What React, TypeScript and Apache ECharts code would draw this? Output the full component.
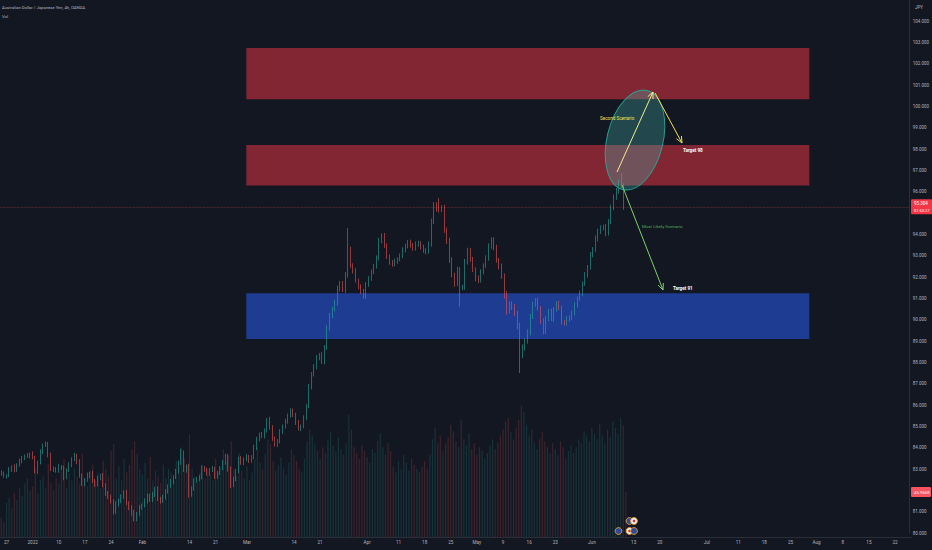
import React, { useEffect, useRef } from "react";
import * as echarts from "echarts";

// ---- half-day (12h) closes, AUD/JPY, Dec 24 2021 -> Jun 9 2022 ----
const firstOpen = 82.85;
const closes = [
  82.78, 82.66, 82.70, 82.98, 83.08, 82.95, 83.20, 83.38, 83.52, 83.60,
  83.62, 83.68, 83.55, 82.90, 83.30, 83.80, 84.12, 84.18, 83.65, 82.98,
  83.02, 82.92, 83.10, 83.05, 82.62, 82.95, 83.20, 83.45, 83.62, 83.35,
  82.70, 82.30, 82.48, 82.70, 82.80, 82.45, 82.28, 82.58, 82.70, 82.25,
  81.85, 81.70, 81.50, 81.00, 81.35, 81.50, 81.72, 81.90, 81.40, 81.20,
  80.95, 80.68, 80.90, 81.20, 81.30, 81.50, 81.75, 81.55, 81.80, 82.08,
  81.60, 81.50, 81.68, 81.95, 82.20, 82.40, 82.62, 82.90, 83.30, 83.75,
  82.95, 83.10, 81.80, 82.10, 82.45, 82.55, 82.62, 83.05, 82.95, 82.80,
  82.95, 83.02, 82.65, 82.80, 83.05, 83.30, 83.62, 83.00, 82.25, 82.55,
  82.90, 83.48, 83.30, 83.45, 83.58, 83.40, 83.55, 84.00, 84.40, 84.62,
  84.55, 84.80, 85.30, 84.95, 84.45, 84.15, 84.30, 84.75, 85.00, 85.25,
  85.50, 85.72, 85.55, 85.20, 84.90, 85.00, 85.40, 85.95, 86.85, 87.45,
  87.80, 88.20, 88.35, 88.05, 88.70, 89.60, 90.20, 90.50, 90.80, 91.45,
  91.70, 91.40, 92.10, 93.30, 92.55, 92.30, 91.85, 91.55, 91.35, 91.10,
  91.65, 91.95, 92.25, 92.50, 92.90, 93.70, 93.95, 93.50, 92.95, 92.70,
  92.60, 92.75, 92.85, 93.00, 93.30, 93.45, 93.65, 93.50, 93.35, 93.55,
  93.60, 93.40, 93.25, 93.20, 93.55, 94.60, 95.40, 95.20, 95.15, 95.25,
  94.20, 93.70, 92.80, 92.10, 91.70, 92.35, 91.50, 91.55, 92.70, 93.25,
  92.85, 92.35, 91.95, 91.85, 92.25, 92.55, 92.90, 93.45, 93.75, 93.40,
  92.80, 92.50, 92.05, 91.20, 90.40, 90.75, 90.60, 90.30, 89.70, 88.40,
  88.70, 89.00, 89.40, 90.15, 90.75, 90.90, 90.55, 89.95, 89.45, 90.05,
  90.40, 90.05, 90.50, 90.75, 90.55, 89.90, 89.85, 90.05, 90.10, 90.30,
  90.70, 91.00, 91.25, 91.70, 92.10, 92.45, 93.05, 93.30, 93.80, 94.15,
  94.30, 94.35, 94.05, 94.60, 95.25, 95.75, 96.05, 96.45, 96.30, 95.304,
];
// upper / lower wick lengths in hundredths of a yen
const wickUp = [
  8, 10, 6, 12, 9, 14, 7, 11, 10, 8, 12, 9, 15, 6, 10, 13, 8, 11, 9, 12,
  10, 7, 13, 9, 11, 8, 12, 10, 14, 9, 11, 8, 10, 13, 7, 12, 9, 10, 8, 11,
  9, 12, 10, 8, 13, 11, 9, 10, 12, 8, 10, 14, 9, 11, 8, 12, 10, 9, 13, 8,
  11, 9, 12, 10, 8, 13, 9, 11, 10, 20, 12, 10, 14, 9, 11, 8, 10, 12, 9, 11,
  10, 12, 8, 11, 9, 13, 10, 8, 12, 9, 11, 10, 13, 9, 12, 8, 10, 14, 11, 9,
  12, 10, 9, 15, 11, 8, 10, 12, 9, 11, 10, 13, 12, 9, 10, 8, 12, 11, 14, 10,
  12, 15, 10, 13, 11, 14, 12, 10, 13, 15, 12, 11, 14, 100, 13, 10, 12, 9, 11, 10,
  12, 10, 11, 13, 12, 14, 10, 12, 9, 11, 10, 12, 8, 11, 10, 12, 9, 11, 10, 12,
  11, 9, 12, 10, 13, 15, 12, 11, 50, 12, 14, 12, 15, 13, 11, 14, 12, 10, 16, 13,
  12, 10, 11, 13, 12, 10, 12, 14, 11, 13, 12, 10, 14, 12, 15, 13, 11, 14, 12, 16,
  14, 12, 15, 13, 11, 12, 14, 10, 13, 12, 11, 13, 10, 12, 14, 11, 10, 12, 11, 13,
  12, 10, 13, 11, 14, 12, 13, 11, 15, 12, 13, 11, 14, 12, 15, 13, 14, 12, 43, 10,
];
const wickDn = [
  9, 7, 11, 8, 12, 10, 8, 9, 11, 10, 7, 12, 9, 10, 14, 8, 11, 9, 10, 8,
  12, 9, 10, 8, 14, 10, 9, 11, 8, 12, 10, 9, 11, 8, 13, 10, 12, 9, 11, 10,
  11, 10, 12, 14, 9, 11, 10, 12, 9, 13, 14, 13, 13, 9, 11, 10, 12, 9, 10, 11,
  10, 12, 9, 11, 10, 8, 12, 9, 11, 10, 9, 12, 15, 10, 11, 9, 12, 10, 8, 11,
  11, 9, 12, 10, 8, 11, 9, 12, 14, 10, 12, 9, 10, 11, 8, 12, 10, 9, 11, 10,
  10, 12, 9, 11, 13, 10, 12, 9, 11, 10, 12, 9, 11, 13, 10, 12, 9, 11, 10, 12,
  11, 13, 10, 12, 14, 11, 10, 12, 11, 13, 12, 10, 14, 12, 11, 13, 10, 12, 14, 11,
  13, 10, 12, 11, 10, 12, 11, 13, 10, 12, 11, 9, 12, 10, 11, 13, 10, 12, 11, 10,
  12, 10, 11, 13, 10, 12, 11, 13, 12, 10, 12, 14, 13, 11, 15, 12, 89, 12, 14, 11,
  13, 11, 14, 12, 10, 12, 11, 13, 12, 14, 12, 14, 13, 20, 16, 12, 14, 13, 15, 90,
  20, 14, 12, 13, 11, 14, 12, 15, 13, 11, 12, 11, 14, 12, 10, 13, 12, 11, 13, 12,
  11, 12, 10, 13, 11, 12, 10, 12, 11, 13, 12, 11, 13, 10, 12, 11, 12, 13, 12, 14,
];
// volume in thousands
const volumesK = [
  20, 15, 35, 40, 30, 45, 38, 50, 42, 55, 60, 48, 52, 70, 45, 58, 62, 50, 75, 55,
  48, 60, 55, 72, 80, 50, 65, 58, 70, 62, 55, 85, 60, 52, 68, 74, 58, 66, 50, 78,
  70, 62, 88, 95, 60, 72, 58, 80, 66, 74, 90, 98, 85, 70, 64, 76, 60, 82, 58, 68,
  62, 55, 74, 60, 70, 66, 58, 78, 72, 92, 80, 75, 105, 70, 62, 58, 66, 74, 60, 70,
  64, 58, 80, 66, 72, 90, 76, 84, 98, 70, 62, 86, 68, 60, 72, 58, 66, 80, 92, 76,
  70, 85, 100, 95, 78, 68, 74, 82, 70, 64, 76, 90, 84, 78, 70, 66, 80, 98, 110, 104,
  96, 88, 80, 92, 86, 100, 108, 94, 88, 102, 90, 84, 96, 125, 110, 92, 86, 80, 94, 88,
  82, 76, 90, 86, 98, 106, 92, 84, 96, 88, 72, 66, 78, 70, 84, 76, 68, 80, 74, 70,
  66, 72, 78, 70, 84, 100, 112, 96, 104, 88, 96, 102, 115, 108, 98, 92, 120, 100, 94, 106,
  90, 96, 84, 92, 88, 80, 86, 94, 100, 90, 96, 104, 110, 118, 122, 108, 100, 112, 120, 135,
  128, 115, 104, 110, 96, 90, 100, 108, 98, 92, 86, 96, 90, 84, 98, 92, 80, 88, 94, 86,
  92, 100, 96, 108, 104, 98, 112, 106, 100, 116, 104, 96, 110, 102, 118, 112, 106, 122, 114, 45.966,
];

// time-axis tick labels and their trading-day offset from Dec 27 2021
const dateLabels = ["27", "2022", "10", "17", "24", "Feb", "14", "21", "Mar", "14", "21", "Apr", "11", "18", "25", "May", "9", "16", "23", "Jun", "13", "20", "Jul", "11", "18", "25", "Aug", "8", "15", "22"];
const dateLabelDays = [0, 5, 10, 15, 20, 26, 35, 40, 46, 55, 60, 69, 75, 80, 85, 90, 95, 100, 105, 112, 120, 125, 134, 140, 145, 150, 155, 160, 165, 170];

// price zones [top, bottom] and their slot span
const zoneUpperRed = [102.75, 100.35];
const zoneLowerRed = [98.2, 96.3];
const zoneBlue = [91.25, 89.1];
const zoneSlots = [94, 310];

const N_SLOTS = 349;
const SLOTS_BEFORE_FIRST_DAY = 2;

const UP = "#26a69a";
const DOWN = "#ef5350";
const FONT = "Roboto, 'Noto Sans', sans-serif";

function arrow(x1: number, y1: number, x2: number, y2: number, color: string) {
  const ang = Math.atan2(y2 - y1, x2 - x1);
  const L = 7;
  const a = 0.42;
  const p1 = [x2 - L * Math.cos(ang - a), y2 - L * Math.sin(ang - a)];
  const p2 = [x2 - L * Math.cos(ang + a), y2 - L * Math.sin(ang + a)];
  return [
    { type: "line", z: 100, shape: { x1, y1, x2, y2 }, style: { stroke: color, lineWidth: 1 } },
    { type: "polyline", z: 100, shape: { points: [p1, [x2, y2], p2] }, style: { stroke: color, lineWidth: 1, fill: null } },
  ];
}

function txt(x: number, y: number, text: string, fill: string, size: number, weight: any = "normal", align: any = "left") {
  return {
    type: "text",
    z: 100,
    x,
    y,
    style: { text, fill, fontSize: size, fontFamily: FONT, fontWeight: weight, align, verticalAlign: "middle" },
  };
}

export default function App() {
  const ref = useRef<HTMLDivElement>(null);

  useEffect(() => {
    document.body.style.margin = "0";
    if (!ref.current) return;
    const chart = echarts.init(ref.current, undefined, { renderer: "svg" });

    const cats = Array.from({ length: N_SLOTS }, (_, i) => String(i));
    const labelMap = new Map<number, string>();
    dateLabels.forEach((l, k) => labelMap.set(SLOTS_BEFORE_FIRST_DAY + 2 * dateLabelDays[k], l));

    const candles = closes.map((c, i) => {
      const o = i === 0 ? firstOpen : closes[i - 1];
      const hi = Math.max(o, c) + wickUp[i] / 100;
      const lo = Math.min(o, c) - wickDn[i] / 100;
      return [o, c, lo, hi];
    });
    const vols = volumesK.map((v, i) => ({
      value: v,
      itemStyle: { color: candles[i][1] >= candles[i][0] ? "rgba(38,166,154,0.2)" : "rgba(239,83,80,0.2)" },
    }));
    const lastClose = closes[closes.length - 1];
    const lastVol = volumesK[volumesK.length - 1];

    const zoneItem = (z: number[], color: string) => [
      { xAxis: String(zoneSlots[0]), yAxis: z[0], itemStyle: { color } },
      { xAxis: String(zoneSlots[1]), yAxis: z[1] },
    ];

    // price levels whose tick labels sit under the two axis badges
    let hidden: number[] = [];
    const priceFormatter = (v: number) =>
      v >= 105 || hidden.some((h) => Math.abs(h - v) < 0.45) ? "" : v.toFixed(3);

    chart.setOption({
      animation: false,
      backgroundColor: "#131722",
      textStyle: { fontFamily: FONT },
      grid: [
        { left: 0, right: 20, top: 0, bottom: 17 },
        { left: 0, right: 20, top: 0, bottom: 13 },
      ],
      xAxis: [
        { type: "category", gridIndex: 0, data: cats, boundaryGap: true, show: false },
        {
          type: "category",
          gridIndex: 1,
          data: cats,
          boundaryGap: true,
          axisLine: { show: true, lineStyle: { color: "#2a2e39" } },
          axisTick: { show: false },
          splitLine: { show: false },
          axisLabel: {
            interval: (i: number) => labelMap.has(i),
            formatter: (_v: string, i: number) => labelMap.get(i) ?? "",
            fontSize: 4.6,
            color: "#b2b5be",
            margin: 3,
            hideOverlap: false,
          },
        },
      ],
      yAxis: [
        {
          type: "value",
          gridIndex: 0,
          position: "right",
          min: 80,
          max: 105,
          interval: 1,
          splitLine: { show: false },
          axisLine: { show: true, lineStyle: { color: "#2a2e39" } },
          axisTick: { show: false },
          axisLabel: {
            formatter: priceFormatter,
            fontSize: 4.5,
            color: "#b2b5be",
            margin: 3,
          },
        },
        { type: "value", gridIndex: 1, min: 0, max: 550, show: false, splitLine: { show: false } },
      ],
      series: [
        {
          type: "bar",
          name: "Vol",
          xAxisIndex: 1,
          yAxisIndex: 1,
          data: vols,
          barWidth: 1.2,
          z: 1,
        },
        {
          type: "candlestick",
          name: "AUDJPY",
          xAxisIndex: 0,
          yAxisIndex: 0,
          data: candles,
          barWidth: 1.1,
          z: 3,
          itemStyle: { color: UP, color0: DOWN, borderColor: UP, borderColor0: DOWN, borderWidth: 0.6 },
          markArea: {
            silent: true,
            data: [
              zoneItem(zoneUpperRed, "rgba(242,54,69,0.5)"),
              zoneItem(zoneLowerRed, "rgba(242,54,69,0.5)"),
              zoneItem(zoneBlue, "rgba(41,98,255,0.5)"),
            ],
          },
          markLine: {
            silent: true,
            symbol: "none",
            label: { show: false },
            lineStyle: { color: "rgba(239,83,80,0.5)", type: "dotted", width: 0.7 },
            data: [{ yAxis: lastClose }],
          },
        },
      ],
    });

    const yPrice = chart.convertToPixel({ yAxisIndex: 0 }, lastClose) as number;
    const yVol = chart.convertToPixel({ yAxisIndex: 1 }, lastVol) as number;
    const volAsPrice = chart.convertFromPixel({ yAxisIndex: 0 }, yVol) as number;
    hidden = [lastClose, volAsPrice];
    const axisX = 932 - 20;

    const flags: any[] = [
      { type: "circle", z: 100, shape: { cx: 618.5, cy: 531, r: 3.4 }, style: { fill: "#2d4a9c", stroke: "#e8a02e", lineWidth: 0.9 } },
      { type: "circle", z: 100, shape: { cx: 629.5, cy: 521, r: 3.4 }, style: { fill: "#2d4a9c", stroke: "#e8a02e", lineWidth: 0.9 } },
      { type: "circle", z: 101, shape: { cx: 634, cy: 521, r: 3.4 }, style: { fill: "#f2f2f2", stroke: "#e8a02e", lineWidth: 0.9 } },
      { type: "circle", z: 102, shape: { cx: 634, cy: 521, r: 1.3 }, style: { fill: "#d32f2f" } },
      { type: "circle", z: 100, shape: { cx: 629.5, cy: 531, r: 3.4 }, style: { fill: "#f2f2f2", stroke: "#e8a02e", lineWidth: 0.9 } },
      { type: "circle", z: 101, shape: { cx: 629.5, cy: 531, r: 1.3 }, style: { fill: "#d32f2f" } },
      { type: "circle", z: 102, shape: { cx: 634, cy: 531, r: 3.4 }, style: { fill: "#2d4a9c", stroke: "#e8a02e", lineWidth: 0.9 } },
    ];

    chart.setOption({
      yAxis: [{ axisLabel: { formatter: priceFormatter } }, {}],
      graphic: [
        txt(2, 7, "Australian Dollar / Japanese Yen, 4h, OANDA", "#b2b5be", 4.2),
        txt(2, 16, "Vol", "#b2b5be", 4.2),
        txt(axisX + 3, 7, "JPY", "#b2b5be", 4.5),
        {
          type: "ellipse",
          z: 99,
          x: 635,
          y: 140,
          rotation: -0.24,
          shape: { cx: 0, cy: 0, rx: 28, ry: 51 },
          style: { fill: "rgba(70,185,180,0.3)", stroke: "rgba(38,170,150,0.9)", lineWidth: 1 },
        },
        ...arrow(617, 172, 653, 92, "#eef08a"),
        ...arrow(655, 93, 682, 143, "#f2e14c"),
        ...arrow(622, 185, 663, 290, "#7fcf6a"),
        txt(600, 118, "Second Scenario", "#f2e14c", 4.6),
        txt(683, 150, "Target 98", "#ffffff", 4.6, "bold"),
        txt(642, 226, "Most Likely Scenario", "#4caf50", 4.4),
        txt(673, 288, "Target 91", "#ffffff", 4.6, "bold"),
        {
          type: "rect",
          z: 100,
          shape: { x: axisX - 1, y: yPrice - 7.5, width: 21, height: 15, r: 1 },
          style: { fill: "#f23645" },
        },
        txt(axisX + 2, yPrice - 3.5, lastClose.toFixed(3), "#ffffff", 4.5),
        txt(axisX + 2, yPrice + 3.5, "01:53:27", "#ffffff", 4),
        {
          type: "rect",
          z: 100,
          shape: { x: axisX - 1, y: yVol - 5, width: 20, height: 10, r: 1 },
          style: { fill: "#f7525f" },
        },
        txt(axisX + 2, yVol, lastVol.toFixed(3) + "K", "#ffffff", 4.3),
        ...flags,
      ],
    });

    return () => chart.dispose();
  }, []);

  return (
    <div
      ref={ref}
      style={{ position: "fixed", left: 0, top: 0, width: 932, height: 550 }}
    />
  );
}
